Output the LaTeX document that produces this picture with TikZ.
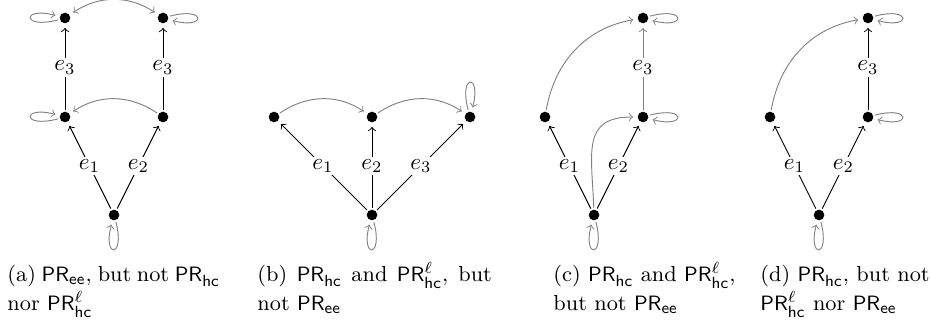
\documentclass[tikz,border=0pt]{standalone}
\usetikzlibrary{arrows}
\newcommand{\PRee}{\ensuremath{\mathsf{PR}_{\mathsf{ee}}}}
\newcommand{\PRhc}{\ensuremath{\mathsf{PR}_{\mathsf{hc}}}}
\newcommand{\PRhcl}{\ensuremath{\mathsf{PR}^{\ell}_{\mathsf{hc}}}}
\tikzset{
  vtx/.style={circle,fill=black,inner sep=0pt,minimum size=4.6pt,outer sep=0.8pt},
  blk/.style={->,shorten >=1.2pt},
  relg/.style={->,gray,shorten >=1.2pt},
  lab/.style={fill=white,inner sep=1pt,text=black},
  captext/.style={anchor=base west,inner sep=0pt,font=\fontsize{9.4}{12}\selectfont},
  lloop/.style={relg,out=195,in=165,min distance=16.5pt,looseness=8},
  rloop/.style={relg,out=15,in=-15,min distance=16.5pt,looseness=8},
  bloop/.style={relg,out=-75,in=255,min distance=16.5pt,looseness=8},
  aloop/.style={relg,out=105,in=75,min distance=16.5pt,looseness=8},
}
\begin{document}
\begin{tikzpicture}[x=0.433pt,y=0.433pt]
\useasboundingbox (0,0) rectangle (930,-328);
% (a)
\node[vtx] (a1) at (65,-18) {};
\node[vtx] (a2) at (163,-18) {};
\node[vtx] (a3) at (65,-117) {};
\node[vtx] (a4) at (163,-117) {};
\node[vtx] (a0) at (114,-215) {};
\draw[blk] (a0) -- node[lab] {$e_1$} (a3);
\draw[blk] (a0) -- node[lab] {$e_2$} (a4);
\draw[blk] (a3) -- node[lab] {$e_3$} (a1);
\draw[blk] (a4) -- node[lab] {$e_3$} (a2);
\draw[relg,<->,shorten <=1.2pt] (a1) to[bend left=34] (a2);
\draw[relg] (a4) to[bend right=34] (a3);
\draw[lloop] (a1) to (a1);
\draw[rloop] (a2) to (a2);
\draw[lloop] (a3) to (a3);
\draw[bloop] (a0) to (a0);
% (b)
\node[vtx] (b1) at (274,-117) {};
\node[vtx] (b2) at (372,-117) {};
\node[vtx] (b3) at (470,-117) {};
\node[vtx] (b0) at (372,-215) {};
\draw[blk] (b0) -- node[lab] {$e_1$} (b1);
\draw[blk] (b0) -- node[lab] {$e_2$} (b2);
\draw[blk] (b0) -- node[lab] {$e_3$} (b3);
\draw[relg] (b1) to[bend left=34] (b2);
\draw[relg] (b2) to[bend left=34] (b3);
\draw[aloop] (b3) to (b3);
\draw[bloop] (b0) to (b0);
% (c)
\node[vtx] (c2) at (643,-18) {};
\node[vtx] (c3) at (545,-117) {};
\node[vtx] (c4) at (643,-117) {};
\node[vtx] (c0) at (594,-215) {};
\draw[blk] (c0) -- node[lab] {$e_1$} (c3);
\draw[blk] (c0) -- node[lab] {$e_2$} (c4);
\draw[relg] (c4) -- node[lab] {$e_3$} (c2);
\draw[relg] (c3) to[out=80,in=190] (c2);
\draw[relg] (c0) to[out=92,in=180,looseness=1.4] (c4);
\draw[rloop] (c2) to (c2);
\draw[rloop] (c4) to (c4);
\draw[bloop] (c0) to (c0);
% (d)
\node[vtx] (d2) at (868,-18) {};
\node[vtx] (d3) at (770,-117) {};
\node[vtx] (d4) at (868,-117) {};
\node[vtx] (d0) at (819,-215) {};
\draw[blk] (d0) -- node[lab] {$e_1$} (d3);
\draw[blk] (d0) -- node[lab] {$e_2$} (d4);
\draw[blk] (d4) -- node[lab] {$e_3$} (d2);
\draw[relg] (d3) to[out=80,in=190] (d2);
\draw[rloop] (d2) to (d2);
\draw[rloop] (d4) to (d4);
\draw[bloop] (d0) to (d0);
% captions
\node[captext] (ca1) at (7,-282) {\hbox to 92pt{(a) \PRee, but not \PRhc}};
\node[captext] (ca2) at (7,-311) {nor \PRhcl};
\node[captext] (cb1) at (257,-282) {\hbox to 101.5pt{(b) \PRhc{} and \PRhcl, but}};
\node[captext] (cb2) at (257,-311) {not \PRee};
\node[captext] (cc1) at (553,-282) {(c) \PRhc{} and \PRhcl,};
\node[captext] (cc2) at (553,-311) {but not \PRee};
\node[captext] (cd1) at (760,-282) {(d) \PRhc, but not};
\node[captext] (cd2) at (760,-311) {\PRhcl{} nor \PRee};
\end{tikzpicture}
\end{document}
